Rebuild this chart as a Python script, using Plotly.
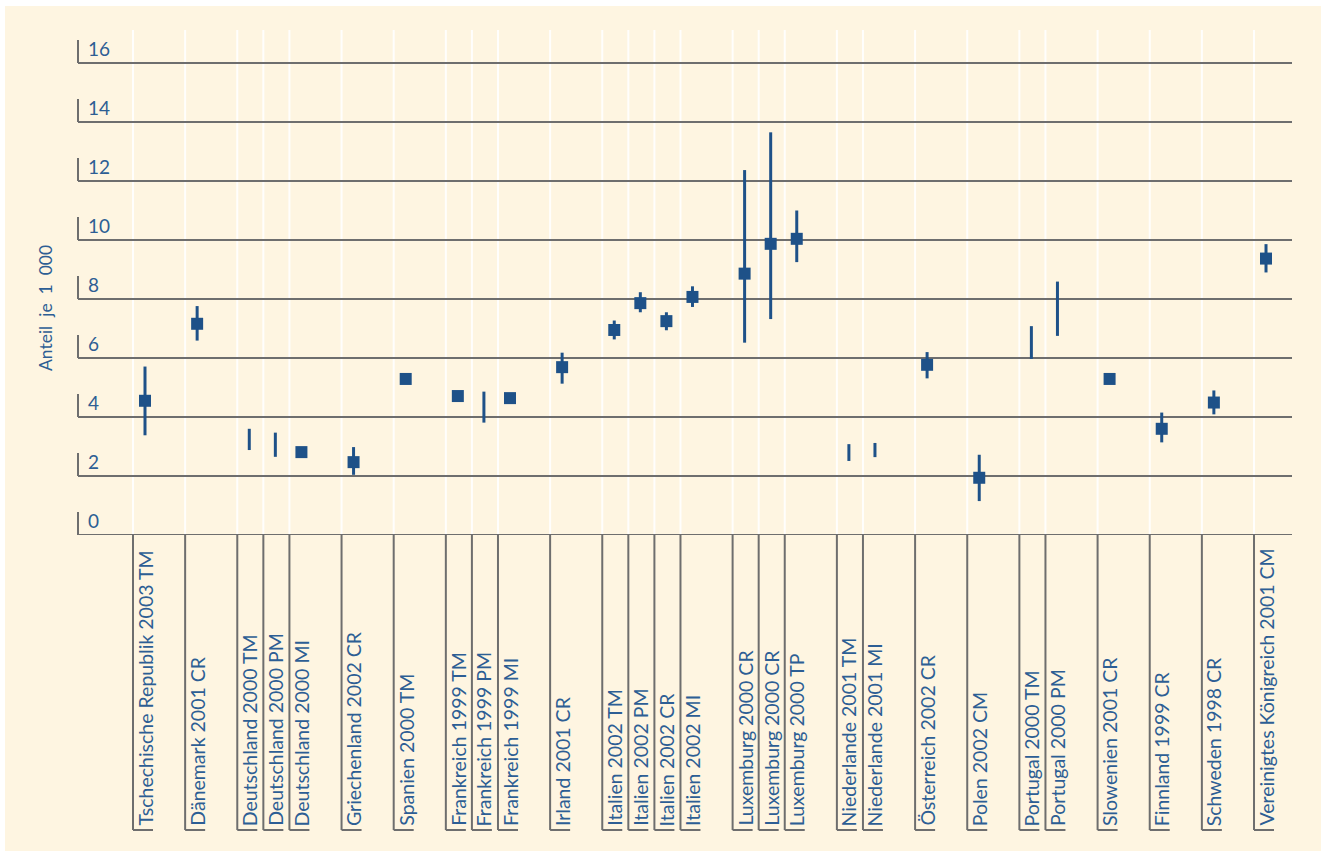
import plotly.graph_objects as go

# Study labels (country, year, study type)
labels = [
    "Tschechische Republik 2003 TM",
    "Dänemark 2001 CR",
    "Deutschland 2000 TM",
    "Deutschland 2000 PM",
    "Deutschland 2000 MI",
    "Griechenland 2002 CR",
    "Spanien 2000 TM",
    "Frankreich 1999 TM",
    "Frankreich 1999 PM",
    "Frankreich 1999 MI",
    "Irland 2001 CR",
    "Italien 2002 TM",
    "Italien 2002 PM",
    "Italien 2002 CR",
    "Italien 2002 MI",
    "Luxemburg 2000 CR",
    "Luxemburg 2000 CR",
    "Luxemburg 2000 TP",
    "Niederlande 2001 TM",
    "Niederlande 2001 MI",
    "Österreich 2002 CR",
    "Polen 2002 CM",
    "Portugal 2000 TM",
    "Portugal 2000 PM",
    "Slowenien 2001 CR",
    "Finnland 1999 CR",
    "Schweden 1998 CR",
    "Vereinigtes Königreich 2001 CM",
]

# Central estimate (None = no point estimate given)
rate = [4.55, 7.16, None, None, 2.81, 2.47, 5.29, 4.71, None, 4.64,
        5.69, 6.95, 7.86, 7.25, 8.07, 8.86, 9.87, 10.04, None, None,
        5.77, 1.94, None, None, 5.29, 3.60, 4.49, 9.37]

# Lower / upper bound of the range (None = no range given)
low = [3.38, 6.59, 2.88, 2.65, None, 2.04, None, None, 3.81, None,
       5.13, 6.63, 7.55, 6.94, 7.73, 6.52, 7.32, 9.25, 2.51, 2.64,
       5.31, 1.15, 5.97, 6.75, None, 3.14, 4.09, 8.90]
high = [5.71, 7.76, 3.60, 3.47, None, 2.98, None, None, 4.86, None,
        6.18, 7.27, 8.23, 7.55, 8.43, 12.37, 13.65, 11.00, 3.08, 3.12,
        6.20, 2.72, 7.08, 8.59, None, 4.15, 4.90, 9.86]

y_ticks = [0, 2, 4, 6, 8, 10, 12, 14, 16]
y_title = "Anteil\u00a0 je\u00a0 1\u00a0 000"

# Slot positions: one slot per study, one empty slot between countries
def country(lbl):
    return " ".join(lbl.split()[:-2])

pos = []
slot = 0
for i, lbl in enumerate(labels):
    if i > 0:
        slot += 2 if country(lbl) != country(labels[i - 1]) else 1
    pos.append(slot)

BG = "#FEF5E1"
BLUE = "#1E5188"
TEXT = "#2D5E94"
GRID = "#6E6E6E"
FONT = "Lato"

W, H = 1321, 851
ML, MR, MT, MB = 78, 29, 30, 316
pw, ph = W - ML - MR, H - MT - MB
unit_x = 26.07          # px per slot
unit_y = 29.5           # px per y unit
x0 = -67 / unit_x
xr = [x0, x0 + pw / unit_x]
yr = [0, ph / unit_y]

fig = go.Figure()

# range lines
lx, ly = [], []
for p, lo, hi in zip(pos, low, high):
    if lo is not None and hi is not None:
        lx += [p, p, None]
        ly += [lo, hi, None]
fig.add_trace(go.Scatter(x=lx, y=ly, mode="lines",
                         line=dict(color=BLUE, width=3), hoverinfo="skip",
                         showlegend=False))

# point estimates
px_ = [p for p, v in zip(pos, rate) if v is not None]
py_ = [v for v in rate if v is not None]
fig.add_trace(go.Scatter(x=px_, y=py_, mode="markers",
                         marker=dict(symbol="square", size=12, color=BLUE,
                                     line=dict(width=0)),
                         showlegend=False))

shapes = []
annotations = []

# thin light edge along the top and left of the page
shapes.append(dict(type="rect", xref="paper", yref="paper",
                   x0=-ML / pw, x1=(-ML + 5) / pw, y0=-MB / ph,
                   y1=(H - MB) / ph, fillcolor="white", line_width=0,
                   layer="below"))
shapes.append(dict(type="rect", xref="paper", yref="paper",
                   x0=-ML / pw, x1=(W - ML) / pw, y0=(H - MB - 6) / ph,
                   y1=(H - MB) / ph, fillcolor="white", line_width=0,
                   layer="below"))

# faint separators inside plot area
sep = 12 / unit_x
for p in pos:
    shapes.append(dict(type="line", xref="x", yref="paper",
                       x0=p - sep, x1=p - sep, y0=0, y1=1,
                       line=dict(color="rgba(255,255,255,0.9)", width=2),
                       layer="below"))

# horizontal grid lines + bracket ticks
br = 23 / unit_y
for t in y_ticks:
    shapes.append(dict(type="line", xref="paper", yref="y",
                       x0=0, x1=1, y0=t, y1=t,
                       line=dict(color=GRID, width=2), layer="below"))
    shapes.append(dict(type="line", xref="paper", yref="y",
                       x0=0, x1=0, y0=t, y1=t + br,
                       line=dict(color=GRID, width=2), layer="below"))
    annotations.append(dict(xref="paper", yref="y", x=0, y=t,
                            xanchor="left", yanchor="bottom",
                            xshift=8, yshift=1, showarrow=False,
                            text=str(t),
                            font=dict(family=FONT, size=19, color=TEXT)))

# category brackets below the axis
yb = -(830 - 535) / ph
for p, lbl in zip(pos, labels):
    shapes.append(dict(type="line", xref="x", yref="paper",
                       x0=p - sep, x1=p - sep, y0=0, y1=yb,
                       line=dict(color=GRID, width=2)))
    shapes.append(dict(type="line", xref="x", yref="paper",
                       x0=p - sep, x1=p - sep + 20 / unit_x, y0=yb, y1=yb,
                       line=dict(color=GRID, width=2)))
    annotations.append(dict(xref="x", yref="paper", x=p, y=yb,
                            xanchor="center", yanchor="bottom", yshift=2,
                            textangle=-90, showarrow=False, text=lbl,
                            font=dict(family=FONT, size=19.5, color=TEXT)))

# y-axis title
annotations.append(dict(xref="paper", yref="paper", x=(45 - ML) / pw,
                        y=(535 - 308) / ph, xanchor="center", yanchor="middle",
                        textangle=-90, showarrow=False, text=y_title,
                        font=dict(family=FONT, size=17.5, color=TEXT)))

fig.update_layout(
    width=W, height=H,
    margin=dict(l=ML, r=MR, t=MT, b=MB),
    paper_bgcolor=BG, plot_bgcolor=BG,
    xaxis=dict(range=xr, showgrid=False, zeroline=False, showticklabels=False,
               ticks="", showline=False, fixedrange=True),
    yaxis=dict(range=yr, showgrid=False, zeroline=False, showticklabels=False,
               ticks="", showline=False, fixedrange=True),
    shapes=shapes,
    annotations=annotations,
    showlegend=False,
)

fig.write_html("out.html")
